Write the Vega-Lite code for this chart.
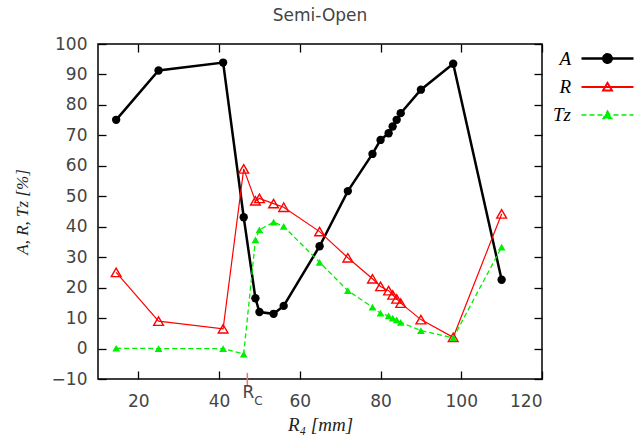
{
  "$schema": "https://vega.github.io/schema/vega-lite/v6.json",
  "width": 444,
  "height": 335,
  "autosize": {"type": "none"},
  "padding": {"left": 98, "top": 44, "right": 92, "bottom": 58},
  "background": "white",
  "title": {"text": "Semi-Open", "font": "DejaVu Sans", "fontSize": 17, "fontWeight": "normal", "color": "#444", "offset": 10, "anchor": "middle"},
  "config": {
    "view": {"stroke": "black", "strokeWidth": 1.5},
    "axis": {"grid": false, "domain": false, "tickColor": "black", "tickWidth": 1.3, "labelFont": "DejaVu Sans", "labelFontSize": 17, "labelColor": "#444", "titleFontWeight": "normal", "titleColor": "#222"}
  },
  "datasets": {
    "pts": [
      {"series": "A", "x": 14.5, "y": 75.1}, {"series": "A", "x": 25, "y": 91.3}, {"series": "A", "x": 41, "y": 93.9}, {"series": "A", "x": 46.1, "y": 43.1},
      {"series": "A", "x": 49, "y": 16.5}, {"series": "A", "x": 50, "y": 12.0}, {"series": "A", "x": 53.5, "y": 11.4}, {"series": "A", "x": 56, "y": 14.0},
      {"series": "A", "x": 64.9, "y": 33.6}, {"series": "A", "x": 71.9, "y": 51.7}, {"series": "A", "x": 78, "y": 63.9}, {"series": "A", "x": 80, "y": 68.5},
      {"series": "A", "x": 82, "y": 70.7}, {"series": "A", "x": 83, "y": 72.9}, {"series": "A", "x": 84, "y": 75.1}, {"series": "A", "x": 85, "y": 77.3},
      {"series": "A", "x": 90, "y": 85.0}, {"series": "A", "x": 98, "y": 93.5}, {"series": "A", "x": 110, "y": 22.6},
      {"series": "R", "x": 14.5, "y": 25.0}, {"series": "R", "x": 25, "y": 9.0}, {"series": "R", "x": 41, "y": 6.5}, {"series": "R", "x": 46.1, "y": 59.0},
      {"series": "R", "x": 49, "y": 48.5}, {"series": "R", "x": 50, "y": 49.3}, {"series": "R", "x": 53.5, "y": 47.6}, {"series": "R", "x": 56, "y": 46.4},
      {"series": "R", "x": 64.9, "y": 38.4}, {"series": "R", "x": 71.9, "y": 29.8}, {"series": "R", "x": 78, "y": 22.9}, {"series": "R", "x": 80, "y": 20.4},
      {"series": "R", "x": 82, "y": 19.0}, {"series": "R", "x": 83, "y": 17.6}, {"series": "R", "x": 84, "y": 16.3}, {"series": "R", "x": 85, "y": 14.9},
      {"series": "R", "x": 90, "y": 9.5}, {"series": "R", "x": 98, "y": 3.7}, {"series": "R", "x": 110, "y": 44.2},
      {"series": "Tz", "x": 14.5, "y": 0.1}, {"series": "Tz", "x": 25, "y": 0.0}, {"series": "Tz", "x": 41, "y": 0.0}, {"series": "Tz", "x": 46.1, "y": -1.8},
      {"series": "Tz", "x": 49, "y": 35.7}, {"series": "Tz", "x": 50, "y": 39.0}, {"series": "Tz", "x": 53.5, "y": 41.5}, {"series": "Tz", "x": 56, "y": 40.1},
      {"series": "Tz", "x": 64.9, "y": 28.3}, {"series": "Tz", "x": 71.9, "y": 19.0}, {"series": "Tz", "x": 78, "y": 13.6}, {"series": "Tz", "x": 80, "y": 11.6},
      {"series": "Tz", "x": 82, "y": 10.7}, {"series": "Tz", "x": 83, "y": 10.0}, {"series": "Tz", "x": 84, "y": 9.4}, {"series": "Tz", "x": 85, "y": 8.6},
      {"series": "Tz", "x": 90, "y": 5.9}, {"series": "Tz", "x": 98, "y": 3.5}, {"series": "Tz", "x": 110, "y": 33.3}
    ],
    "rc": [{"x": 47, "label": "R", "sub": "C"}],
    "keys": [{"series": "A"}, {"series": "R"}, {"series": "Tz"}]
  },
  "resolve": {"axis": {"x": "independent", "y": "independent"}},
  "layer": [
    {
      "data": {"name": "pts"},
      "transform": [{"filter": "datum.series === 'A'"}],
      "mark": {"type": "line", "color": "black", "strokeWidth": 2.5},
      "encoding": {
        "x": {"field": "x", "type": "quantitative", "scale": {"domain": [10, 120], "nice": false, "zero": false},
              "axis": {"orient": "bottom", "values": [20, 40, 60, 80, 100, 120], "tickSize": -8, "labelPadding": 22, "title": "R₄  [mm]", "titleFont": "Liberation Serif", "titleFontStyle": "italic", "titleFontSize": 19, "titlePadding": 6}},
        "y": {"field": "y", "type": "quantitative", "scale": {"domain": [-10, 100], "nice": false, "zero": false},
              "axis": {"orient": "left", "values": [-10, 0, 10, 20, 30, 40, 50, 60, 70, 80, 90, 100], "tickSize": -8, "labelPadding": 19, "title": "A, R, Tz  [%]", "titleFont": "Liberation Serif", "titleFontStyle": "italic", "titleFontSize": 17, "titlePadding": 20}}
      }
    },
    {
      "data": {"name": "pts"},
      "transform": [{"filter": "datum.series === 'R'"}],
      "mark": {"type": "line", "color": "#ff0000", "strokeWidth": 1.2},
      "encoding": {
        "x": {"field": "x", "type": "quantitative", "axis": {"orient": "top", "values": [20, 40, 60, 80, 100, 120], "tickSize": -8, "labels": false, "title": null}},
        "y": {"field": "y", "type": "quantitative", "axis": {"orient": "right", "values": [-10, 0, 10, 20, 30, 40, 50, 60, 70, 80, 90, 100], "tickSize": -8, "labels": false, "title": null}}
      }
    },
    {
      "data": {"name": "pts"},
      "transform": [{"filter": "datum.series === 'Tz'"}],
      "mark": {"type": "line", "color": "#00ee00", "strokeWidth": 1.3, "strokeDash": [5, 3]},
      "encoding": {
        "x": {"field": "x", "type": "quantitative", "axis": null},
        "y": {"field": "y", "type": "quantitative", "axis": null}
      }
    },
    {
      "data": {"name": "pts"},
      "transform": [{"filter": "datum.series === 'A'"}],
      "mark": {"type": "point", "shape": "circle", "filled": true, "color": "black", "opacity": 1, "size": 70},
      "encoding": {
        "x": {"field": "x", "type": "quantitative", "axis": null},
        "y": {"field": "y", "type": "quantitative", "axis": null}
      }
    },
    {
      "data": {"name": "pts"},
      "transform": [{"filter": "datum.series === 'R'"}],
      "mark": {"type": "point", "shape": "triangle-up", "filled": false, "color": "#ff0000", "strokeWidth": 1.4, "opacity": 1, "size": 95},
      "encoding": {
        "x": {"field": "x", "type": "quantitative", "axis": null},
        "y": {"field": "y", "type": "quantitative", "axis": null}
      }
    },
    {
      "data": {"name": "pts"},
      "transform": [{"filter": "datum.series === 'Tz'"}],
      "mark": {"type": "point", "shape": "triangle-up", "filled": true, "color": "#00ee00", "opacity": 1, "size": 60},
      "encoding": {
        "x": {"field": "x", "type": "quantitative", "axis": null},
        "y": {"field": "y", "type": "quantitative", "axis": null}
      }
    },
    {
      "data": {"name": "rc"},
      "mark": {"type": "rule", "color": "#f07070", "strokeWidth": 1.5},
      "encoding": {
        "x": {"field": "x", "type": "quantitative", "axis": null},
        "y": {"datum": -8, "type": "quantitative", "axis": null},
        "y2": {"datum": -12.5}
      }
    },
    {
      "data": {"name": "rc"},
      "mark": {"type": "text", "font": "DejaVu Sans", "fontSize": 17, "color": "#444", "align": "center", "baseline": "middle", "dx": 1, "dy": 14},
      "encoding": {
        "x": {"field": "x", "type": "quantitative", "axis": null},
        "y": {"datum": -10, "type": "quantitative", "axis": null},
        "text": {"field": "label"}
      }
    },
    {
      "data": {"name": "rc"},
      "mark": {"type": "text", "font": "DejaVu Sans", "fontSize": 12, "color": "#444", "align": "center", "baseline": "middle", "dx": 11, "dy": 22},
      "encoding": {
        "x": {"field": "x", "type": "quantitative", "axis": null},
        "y": {"datum": -10, "type": "quantitative", "axis": null},
        "text": {"field": "sub"}
      }
    },
    {
      "data": {"name": "keys"},
      "mark": {"type": "point", "size": 0, "filled": true, "opacity": 1},
      "encoding": {
        "fill": {"field": "series", "type": "nominal", "scale": {"domain": ["A", "R", "Tz"], "range": ["black", "transparent", "#00ee00"]},
          "legend": {"title": null, "orient": "none", "legendX": 472, "legendY": 3, "symbolSize": 400, "rowPadding": 7, "symbolOffset": 26, "labelOffset": -48, "labelAlign": "right", "labelFont": "Liberation Serif", "labelFontStyle": "italic", "labelFontSize": 19, "labelColor": "black"}},
        "stroke": {"field": "series", "type": "nominal", "scale": {"domain": ["A", "R", "Tz"], "range": ["black", "#ff0000", "#00ee00"]},
          "legend": {"title": null, "orient": "none", "legendX": 472, "legendY": 3, "symbolSize": 400, "rowPadding": 7, "symbolOffset": 26, "labelOffset": -48, "labelAlign": "right", "labelFont": "Liberation Serif", "labelFontStyle": "italic", "labelFontSize": 19, "labelColor": "black"}},
        "strokeDash": {"field": "series", "type": "nominal", "scale": {"domain": ["A", "R", "Tz"], "range": [[1, 0], [1, 0], [5, 3]]},
          "legend": {"title": null, "orient": "none", "legendX": 472, "legendY": 3, "symbolSize": 400, "rowPadding": 7, "symbolOffset": 26, "labelOffset": -48, "labelAlign": "right", "labelFont": "Liberation Serif", "labelFontStyle": "italic", "labelFontSize": 19, "labelColor": "black"}},
        "strokeWidth": {"field": "series", "type": "ordinal", "scale": {"domain": ["A", "R", "Tz"], "range": [2.5, 1.3, 1.3]},
          "legend": {"title": null, "orient": "none", "legendX": 472, "legendY": 3, "symbolSize": 400, "rowPadding": 7, "symbolOffset": 26, "labelOffset": -48, "labelAlign": "right", "labelFont": "Liberation Serif", "labelFontStyle": "italic", "labelFontSize": 19, "labelColor": "black"}},
        "shape": {"field": "series", "type": "nominal", "scale": {"domain": ["A", "R", "Tz"], "range": [
            "M-2.6,0H2.6M0.42,0A0.42,0.42 0 1,1 -0.42,0A0.42,0.42 0 1,1 0.42,0Z",
            "M-2.6,0H2.6M0,-0.42L0.45,0.35L-0.45,0.35Z",
            "M-2.6,0H2.6M0,-0.42L0.45,0.35L-0.45,0.35Z"]},
          "legend": {"title": null, "orient": "none", "legendX": 472, "legendY": 3, "symbolSize": 400, "rowPadding": 7, "symbolOffset": 26, "labelOffset": -48, "labelAlign": "right", "labelFont": "Liberation Serif", "labelFontStyle": "italic", "labelFontSize": 19, "labelColor": "black"}}
      }
    }
  ]
}
